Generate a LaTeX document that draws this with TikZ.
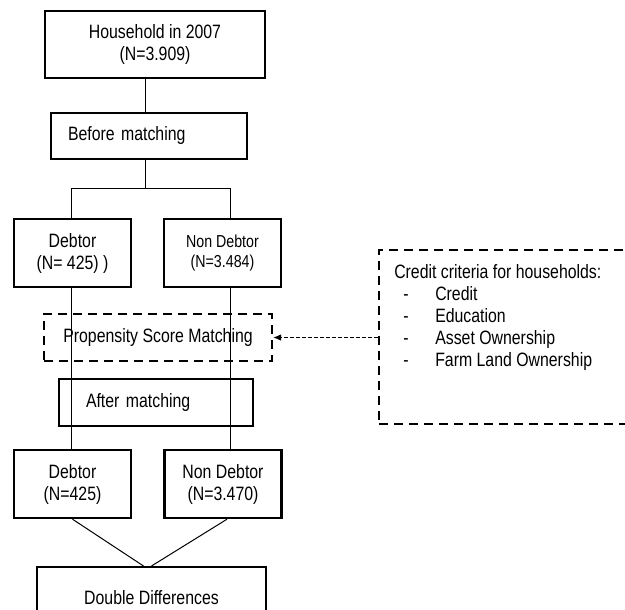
\documentclass[tikz,border=0pt]{standalone}
\usepackage{fontspec}
\setmainfont{Liberation Sans}[FakeStretch=0.82]
\usetikzlibrary{arrows.meta}

\begin{document}
\begin{tikzpicture}[x=0.75pt, y=-0.75pt,
    box/.style={draw, line width=1.8pt, inner sep=0pt, align=center},
    dbox/.style={draw, line width=1.8pt, dash pattern=on 6.75pt off 4.5pt, inner sep=0pt},
    link/.style={line width=0.75pt},
    font=\fontsize{14.5}{16.5}\selectfont]
    \useasboundingbox (0,0) rectangle (625,610);

    \node[box, minimum width=165pt, minimum height=50.25pt] (hh) at (155,44.5) {Household in 2007\\(N=3.909)};
    \node[box, minimum width=147pt, minimum height=34.5pt, inner xsep=12.75pt, text width=121.5pt, align=left] (before) at (149,136) {Before matching};

    \node[box, minimum width=87.75pt, minimum height=51pt] (deb1) at (72.5,253) {Debtor\\(N= 425) )};
    \node[box, minimum width=87.75pt, minimum height=51pt, font=\fontsize{13}{15}\selectfont] (ndeb1) at (222.5,253) {Non Debtor\\(N=3.484)};

    \node[dbox, minimum width=171pt, minimum height=35.25pt] (psm) at (158,337.5) {Propensity Score Matching};
    \node[box, minimum width=145.5pt, minimum height=35.25pt, inner xsep=20.25pt, text width=105pt, align=left] (after) at (156,402.5) {After matching};

    \node[box, minimum width=87.75pt, minimum height=51pt] (deb2) at (72.5,484) {Debtor\\(N=425)};
    \node[box, minimum width=87.75pt, minimum height=51pt] (ndeb2) at (223,484) {Non Debtor\\(N=3.470)};

    \node[box, minimum width=171.75pt, minimum height=45pt, anchor=north] (dd) at (151.5,566) {Double Differences};

    \node[dbox, minimum width=240pt, minimum height=130.5pt, anchor=north west] (crit) at (378,249) {};
    \node[anchor=north west, inner sep=0pt, align=left] (crittext) at (394,264) {Credit criteria for households:\\
        \hspace*{6.75pt}\makebox[24pt][l]{-}Credit\\
        \hspace*{6.75pt}\makebox[24pt][l]{-}Education\\
        \hspace*{6.75pt}\makebox[24pt][l]{-}Asset Ownership\\
        \hspace*{6.75pt}\makebox[24pt][l]{-}Farm Land Ownership};

    \coordinate (fork) at (145,188);
    \coordinate (forkL) at (71,188);
    \coordinate (forkR) at (230,188);

    \draw[link] (hh.south -| fork) -- (before.north -| fork);
    \draw[link] (before.south -| fork) -- (fork);
    \draw[link] (forkL) -- (forkR);
    \draw[link] (forkL) -- (forkL |- deb1.north);
    \draw[link] (forkR) -- (forkR |- ndeb1.north);
    \draw[link] (forkL |- deb1.south) -- (forkL |- deb2.north);
    \draw[link] (forkR |- ndeb1.south) -- (forkR |- ndeb2.north);
    \draw[link] (deb2.south) -- ([xshift=-6pt]dd.north);
    \draw[link] ([xshift=3pt]ndeb2.south) -- (dd.north);

    \draw[link, dash pattern=on 3pt off 1.5pt, -{Latex[length=6pt, width=5pt]}] (crit.west |- psm.east) -- (psm.east);
\end{tikzpicture}
\end{document}
